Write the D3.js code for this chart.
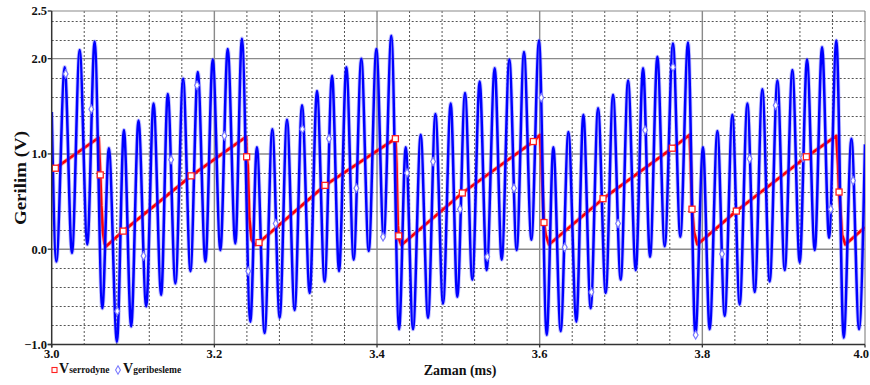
<!DOCTYPE html>
<html>
<head>
<meta charset="utf-8">
<script src="https://cdn.jsdelivr.net/npm/d3@7"></script>
<style>
  body { margin: 0; background: #fff; }
  svg { display: block; font-family: "Liberation Serif", "Times New Roman", serif; font-weight: bold; }
</style>
</head>
<body>
<svg id="chart" width="870" height="385"></svg>
<script>
// Feedback signal (V_geribesleme): times (ms) and voltages (V) of successive peaks and troughs
const fbTime = [
  3.0000, 3.0057, 3.0160, 3.0249, 3.0344, 3.0438, 3.0528, 3.0622, 3.0703, 3.0802,
  3.0888, 3.0977, 3.1067, 3.1162, 3.1252, 3.1346, 3.1427, 3.1521, 3.1616, 3.1706,
  3.1796, 3.1890, 3.1980, 3.2074, 3.2164, 3.2258, 3.2339, 3.2442, 3.2523,
  3.2618, 3.2713, 3.2803, 3.2893, 3.2987, 3.3078, 3.3172, 3.3262, 3.3356, 3.3447,
  3.3533, 3.3623, 3.3713, 3.3807, 3.3898, 3.3992, 3.4082, 3.4176, 3.4271, 3.4353,
  3.4443, 3.4537, 3.4627, 3.4718, 3.4812, 3.4906,
  3.4987, 3.5082, 3.5172, 3.5262, 3.5348, 3.5447, 3.5533, 3.5627, 3.5717, 3.5807,
  3.5898, 3.5992, 3.6086, 3.6168, 3.6258, 3.6353, 3.6451, 3.6537, 3.6627, 3.6718,
  3.6812, 3.6902, 3.6996, 3.7087, 3.7181, 3.7271, 3.7357, 3.7447,
  3.7537, 3.7639, 3.7729, 3.7824, 3.7914, 3.8008, 3.8090, 3.8185, 3.8275, 3.8369,
  3.8459, 3.8554, 3.8644, 3.8738, 3.8828, 3.8923, 3.9013, 3.9107, 3.9197, 3.9287,
  3.9382, 3.9472, 3.9558, 3.9648, 3.9738, 3.9833, 3.9927, 4.0000
];
const fbVolt = [
  1.44, -0.13, 1.91, -0.04, 2.09, 0.05, 2.18, -0.62, 1.06, -0.97,
  1.25, -0.81, 1.35, -0.60, 1.53, -0.48, 1.63, -0.36, 1.79, -0.23,
  1.86, -0.13, 1.99, -0.01, 2.10, 0.06, 2.21, -0.76, 1.07,
  -0.88, 1.26, -0.72, 1.36, -0.64, 1.51, -0.46, 1.66, -0.34, 1.82,
  -0.23, 1.91, -0.11, 2.00, -0.02, 2.10, 0.12, 2.24, -0.84, 1.07,
  -0.84, 1.20, -0.72, 1.42, -0.57, 1.53,
  -0.50, 1.64, -0.32, 1.76, -0.22, 1.90, -0.11, 1.99, -0.01, 2.07,
  0.10, 2.19, -0.90, 1.07, -0.86, 1.23, -0.76, 1.41, -0.62, 1.48,
  -0.46, 1.62, -0.32, 1.77, -0.22, 1.90, -0.08, 2.02,
  0.03, 2.16, 0.13, 2.17, -0.90, 1.07, -0.84, 1.24, -0.70, 1.41,
  -0.58, 1.53, -0.45, 1.68, -0.34, 1.77, -0.22, 1.88, -0.14, 1.99,
  -0.01, 2.12, 0.12, 2.19, -0.93, 1.16, -0.84, 1.10
];

// Serrodyne sawtooth (V_serrodyne): ramp tops, flyback and ramp starts
const rampTime = [
  3.0000, 3.0577, 3.0610, 3.0630, 3.0650, 3.0670,
  3.2389, 3.2410, 3.2430, 3.2458, 3.2500,
  3.4226, 3.4238, 3.4255, 3.4275, 3.4300,
  3.6004, 3.6020, 3.6045, 3.6074, 3.6115,
  3.7844, 3.7857, 3.7898, 3.7939,
  3.9648, 3.9669, 3.9690, 3.9718, 3.9759, 4.0000
];
const rampVolt = [
  0.82, 1.17, 0.46, 0.18, 0.06, 0.03,
  1.18, 0.88, 0.32, 0.10, 0.045,
  1.16, 0.90, 0.25, 0.10, 0.045,
  1.20, 0.97, 0.39, 0.15, 0.05,
  1.20, 0.92, 0.18, 0.05,
  1.19, 0.88, 0.50, 0.15, 0.05, 0.23
];

// Sample points marked on each trace
const rampMarkTime = [3.0045, 3.0597, 3.0879, 3.1714, 3.2397, 3.2549, 3.3360, 3.4226, 3.4267,
                      3.5049, 3.5922, 3.6053, 3.6779, 3.7631, 3.7873, 3.8418, 3.9279, 3.9681];
const rampMarkVolt = [0.85, 0.78, 0.19, 0.77, 0.97, 0.07, 0.67, 1.16, 0.14,
                      0.59, 1.13, 0.28, 0.53, 1.06, 0.42, 0.40, 0.97, 0.60];
const fbMarkTime = [3.0172, 3.0487, 3.0806, 3.1129, 3.1468, 3.1787, 3.2123, 3.2417,
                    3.2754, 3.3082, 3.3410, 3.3746, 3.4074, 3.4369, 3.4689,
                    3.5020, 3.5356, 3.5684, 3.6020, 3.6308, 3.6636, 3.6964, 3.7296,
                    3.7639, 3.7918, 3.8242, 3.8582, 3.8902, 3.9238, 3.9579, 3.9853];
const fbMarkVolt = [1.84, 1.47, -0.65, -0.07, 0.94, 1.72, 1.19, -0.23,
                    0.27, 1.26, 1.16, 0.64, 0.13, 0.80, 0.92,
                    0.42, -0.08, 0.64, 1.59, 0.02, -0.45, 0.27, 1.25,
                    1.91, -0.90, -0.05, 0.95, 1.51, 0.96, 0.42, 0.72];

// Axis ticks and titles
const xTickLabels = [3.0, 3.2, 3.4, 3.6, 3.8, 4.0];
const yTickLabels = [2.5, 2.0, 1.0, 0.0, -1.0];
const xTitle = "Zaman (ms)";
const yTitle = "Gerilim (V)";
const legendNames = [["V", "serrodyne"], ["V", "geribesleme"]];

const svg = d3.select("#chart");
const plot = { left: 51.7, right: 865, top: 11, bottom: 344.5 };

const x = d3.scaleLinear().domain([3.0, 4.0]).range([plot.left, plot.right]);
const y = d3.scaleLinear().domain([-1.0, 2.5]).range([plot.bottom, plot.top]);

svg.append("defs").append("clipPath").attr("id", "plotClip")
  .append("rect")
  .attr("x", plot.left).attr("y", plot.top)
  .attr("width", plot.right - plot.left).attr("height", plot.bottom - plot.top);

// Grid
const grid = svg.append("g");
const minorX = d3.range(3.04, 4.0, 0.04).filter(v => Math.abs(v / 0.2 - Math.round(v / 0.2)) > 1e-6);
const majorX = [3.2, 3.4, 3.6, 3.8];
const minorY = d3.range(-0.8, 2.5, 0.2).filter(v => Math.abs(v - Math.round(v)) > 1e-6);
const majorY = [0, 1, 2];

grid.selectAll(".mx").data(minorX).join("line")
  .attr("x1", d => x(d)).attr("x2", d => x(d))
  .attr("y1", plot.top).attr("y2", plot.bottom)
  .attr("stroke", "#555").attr("stroke-width", 1).attr("stroke-dasharray", "2,2");
grid.selectAll(".my").data(minorY).join("line")
  .attr("x1", plot.left).attr("x2", plot.right)
  .attr("y1", d => Math.round(y(d)) + 0.5).attr("y2", d => Math.round(y(d)) + 0.5)
  .attr("stroke", "#555").attr("stroke-width", 1).attr("stroke-dasharray", "2,2");
grid.selectAll(".Mx").data(majorX).join("line")
  .attr("x1", d => x(d)).attr("x2", d => x(d))
  .attr("y1", plot.top).attr("y2", plot.bottom)
  .attr("stroke", "#8a8a8a").attr("stroke-width", 1.4);
grid.selectAll(".My").data(majorY).join("line")
  .attr("x1", plot.left).attr("x2", plot.right)
  .attr("y1", d => y(d)).attr("y2", d => y(d))
  .attr("stroke", "#8a8a8a").attr("stroke-width", 1.4);

// Frame
svg.append("line").attr("x1", plot.left).attr("x2", plot.right)
  .attr("y1", plot.top).attr("y2", plot.top).attr("stroke", "#8a8a8a").attr("stroke-width", 1.2);
svg.append("line").attr("x1", plot.right).attr("x2", plot.right)
  .attr("y1", plot.top).attr("y2", plot.bottom).attr("stroke", "#8a8a8a").attr("stroke-width", 1.2);

// Traces
const traces = svg.append("g").attr("clip-path", "url(#plotClip)");

const rampPts = rampTime.map((t, i) => [t, rampVolt[i]])
  .concat(rampMarkTime.map((t, i) => [t, rampMarkVolt[i]]))
  .sort((a, b) => a[0] - b[0]);
const rampLine = d3.line().x(d => x(d[0])).y(d => y(d[1]));
traces.append("path").datum(rampPts)
  .attr("fill", "none").attr("stroke", "#ff6060").attr("stroke-opacity", 0.4)
  .attr("stroke-width", 4.4).attr("stroke-linejoin", "round").attr("d", rampLine);
traces.append("path").datum(rampPts)
  .attr("fill", "none").attr("stroke", "#ff0000")
  .attr("stroke-width", 2.7).attr("stroke-linejoin", "round").attr("d", rampLine);

const fbPts = fbTime.map((t, i) => [t, fbVolt[i]]);
const fbLine = d3.line().x(d => x(d[0])).y(d => y(d[1])).curve(d3.curveMonotoneX);
traces.append("path").datum(fbPts)
  .attr("fill", "none").attr("stroke", "#6b6bff").attr("stroke-opacity", 0.4)
  .attr("stroke-width", 4.2).attr("stroke-linejoin", "round").attr("d", fbLine);
traces.append("path").datum(fbPts)
  .attr("fill", "none").attr("stroke", "#0000ff")
  .attr("stroke-width", 2.5).attr("stroke-linejoin", "round").attr("d", fbLine);

// Markers
const diamond = d3.symbol().type(d3.symbolDiamond).size(20);
traces.selectAll(".fbm").data(fbMarkTime).join("path")
  .attr("transform", (d, i) => `translate(${x(d)},${y(fbMarkVolt[i])})`)
  .attr("d", diamond)
  .attr("fill", "#fff").attr("stroke", "#7a7aff").attr("stroke-width", 1.2);
traces.selectAll(".rm").data(rampMarkTime).join("rect")
  .attr("x", d => x(d) - 3).attr("y", (d, i) => y(rampMarkVolt[i]) - 3)
  .attr("width", 6).attr("height", 6)
  .attr("fill", "#fff").attr("stroke", "#ff2020").attr("stroke-width", 1.3);

// Axes
svg.append("line").attr("x1", plot.left).attr("x2", plot.left)
  .attr("y1", plot.top).attr("y2", plot.bottom + 3).attr("stroke", "#333").attr("stroke-width", 1.5);
svg.append("line").attr("x1", plot.left - 4).attr("x2", plot.right)
  .attr("y1", plot.bottom).attr("y2", plot.bottom).attr("stroke", "#333").attr("stroke-width", 1.5);

svg.selectAll(".ytk").data(yTickLabels).join("line")
  .attr("x1", plot.left - 4).attr("x2", plot.left)
  .attr("y1", d => y(d)).attr("y2", d => y(d)).attr("stroke", "#333").attr("stroke-width", 1.3);
svg.selectAll(".ylab").data(yTickLabels).join("text")
  .attr("x", 47).attr("y", d => y(d)).attr("dy", "0.35em")
  .attr("text-anchor", "end").attr("font-size", 12.5).attr("fill", "#111")
  .text(d => d3.format(".1f")(d));

svg.selectAll(".xtk").data(xTickLabels).join("line")
  .attr("x1", d => x(d)).attr("x2", d => x(d))
  .attr("y1", plot.bottom).attr("y2", plot.bottom + 3).attr("stroke", "#333").attr("stroke-width", 1.3);
// the last label sits against the right edge, so it is end-anchored to stay inside
svg.selectAll(".xlab").data(xTickLabels).join("text")
  .attr("x", (d, i) => i === xTickLabels.length - 1 ? 869 : x(d)).attr("y", 358)
  .attr("text-anchor", (d, i) => i === xTickLabels.length - 1 ? "end" : "middle")
  .attr("font-size", 12.5).attr("fill", "#111")
  .text(d => d3.format(".1f")(d));

svg.append("text").attr("x", 460).attr("y", 375)
  .attr("text-anchor", "middle").attr("font-size", 14).attr("fill", "#111").text(xTitle);
svg.append("text").attr("transform", "translate(26,178) rotate(-90)")
  .attr("text-anchor", "middle").attr("font-size", 16.5).attr("fill", "#111")
  .attr("textLength", 94).attr("lengthAdjust", "spacingAndGlyphs").text(yTitle);

// Legend
const legend = svg.append("g");
legend.append("rect").attr("x", 52).attr("y", 367.5).attr("width", 5).attr("height", 5)
  .attr("fill", "#fff").attr("stroke", "#ff2020").attr("stroke-width", 1.1);
legend.append("path").attr("transform", "translate(118,370)")
  .attr("d", d3.symbol().type(d3.symbolDiamond).size(20))
  .attr("fill", "#fff").attr("stroke", "#7a7aff").attr("stroke-width", 1.1);
const legX = [59, 123];
legendNames.forEach((n, i) => {
  const t = legend.append("text").attr("x", legX[i]).attr("y", 373).attr("fill", "#111");
  t.append("tspan").attr("font-size", 14).text(n[0]);
  t.append("tspan").attr("font-size", 9.5).text(n[1]);
});
</script>
</body>
</html>
